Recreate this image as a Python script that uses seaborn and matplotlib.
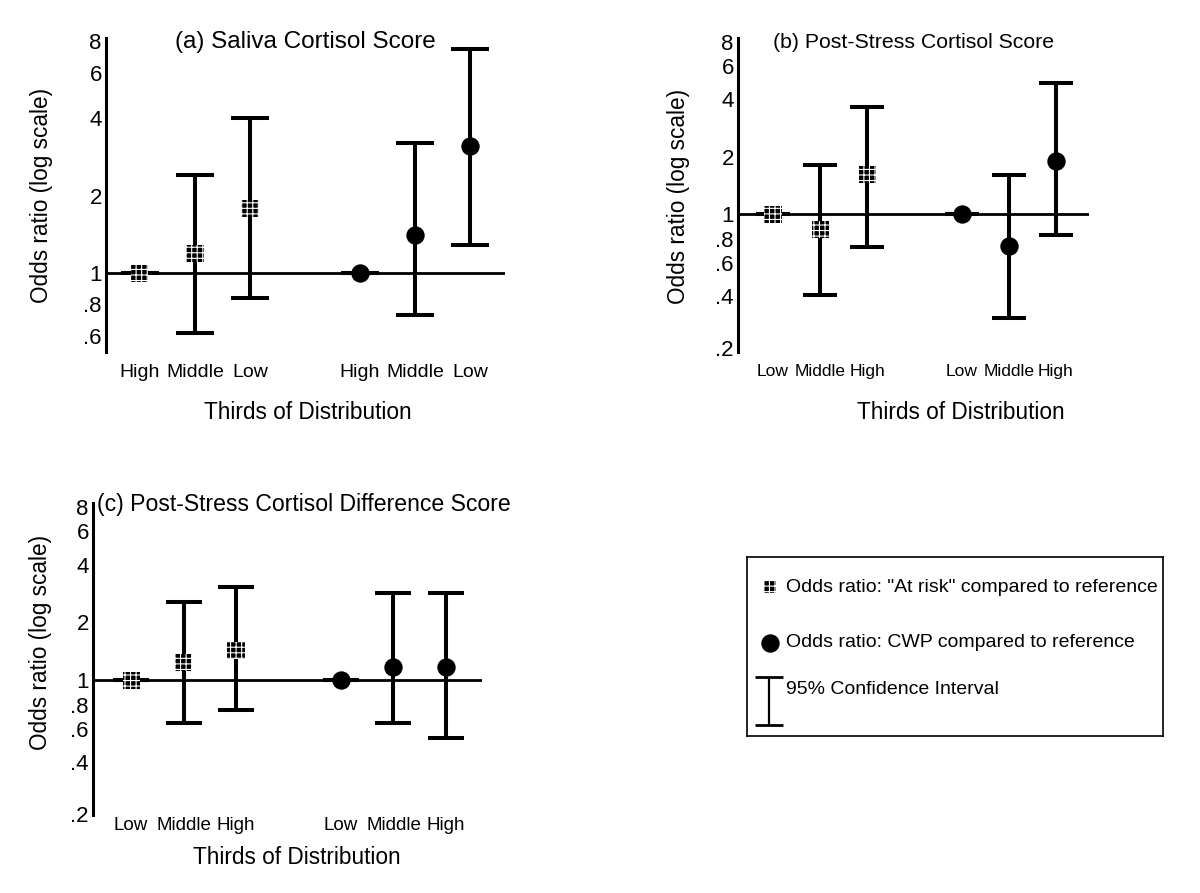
import seaborn as sns
import matplotlib.pyplot as plt
import pandas as pd
from matplotlib import font_manager
from matplotlib.transforms import ScaledTranslation

# category labels (thirds of the distribution)
thirds_a = ["High", "Middle", "Low"]
thirds_bc = ["Low", "Middle", "High"]

# odds ratios and 95% CI (log axis)
# (a) saliva cortisol score
a_risk_or = [1.0, 1.19, 1.79]
a_risk_lo = [1.0, 0.586, 0.80]
a_risk_hi = [1.0, 2.41, 4.02]
a_cwp_or = [1.0, 1.41, 3.13]
a_cwp_lo = [1.0, 0.69, 1.29]
a_cwp_hi = [1.0, 3.21, 7.45]

# (b) post-stress cortisol score
b_risk_or = [1.0, 0.835, 1.61]
b_risk_lo = [1.0, 0.38, 0.677]
b_risk_hi = [1.0, 1.81, 3.66]
b_cwp_or = [1.0, 0.683, 1.89]
b_cwp_lo = [1.0, 0.286, 0.78]
b_cwp_hi = [1.0, 1.61, 4.85]

# (c) post-stress cortisol difference score
c_risk_or = [1.0, 1.23, 1.42]
c_risk_lo = [1.0, 0.60, 0.70]
c_risk_hi = [1.0, 2.55, 3.06]
c_cwp_or = [1.0, 1.17, 1.17]
c_cwp_lo = [1.0, 0.60, 0.50]
c_cwp_hi = [1.0, 2.84, 2.84]

yticks_a = [0.6, 0.8, 1, 2, 4, 6, 8]
yticks_bc = [0.2, 0.4, 0.6, 0.8, 1, 2, 4, 6, 8]
ytick_labels_a = [".6", ".8", "1", "2", "4", "6", "8"]
ytick_labels_bc = [".2", ".4", ".6", ".8", "1", "2", "4", "6", "8"]

legend_labels = ['Odds ratio: "At risk" compared to reference',
                 'Odds ratio: CWP compared to reference',
                 '95% Confidence Interval']

sns.set_style("white")
plt.rcParams["font.family"] = ["Liberation Sans", "DejaVu Sans"]
plt.rcParams["text.color"] = "black"
plt.rcParams["axes.labelcolor"] = "black"
plt.rcParams["xtick.color"] = "black"
plt.rcParams["ytick.color"] = "black"
plt.rcParams["hatch.linewidth"] = 0.8


def has_font(name):
    try:
        font_manager.findfont(font_manager.FontProperties(family=[name]),
                              fallback_to_default=False)
        return True
    except ValueError:
        return False


tick_font = "Liberation Sans Narrow" if has_font("Liberation Sans Narrow") else "Liberation Sans"


def make_frame(labels, r_or, r_lo, r_hi, c_or, c_lo, c_hi):
    rows = []
    for i, lab in enumerate(labels):
        rows.append(dict(group="At risk", pos=i, third=lab, odds=r_or[i], lo=r_lo[i], hi=r_hi[i]))
    for i, lab in enumerate(labels):
        rows.append(dict(group="CWP", pos=i + 4, third=lab, odds=c_or[i], lo=c_lo[i], hi=c_hi[i]))
    return pd.DataFrame(rows)


def draw_panel(ax, df, title, xlim, ylim, yticks, ylabels, cap, xpad, xsize,
               tsize, title_xy, title_ha, ylab_xy, xlab_xy):
    ax.set_yscale("log")
    ax.axhline(1, color="black", lw=2.0, zorder=1)
    ax.errorbar(df["pos"], df["odds"],
                yerr=[df["odds"] - df["lo"], df["hi"] - df["odds"]],
                fmt="none", ecolor="black", elinewidth=2.9,
                capsize=cap, capthick=2.9, zorder=2)
    risk = df[df["group"] == "At risk"]
    cwp = df[df["group"] == "CWP"]
    sns.scatterplot(data=risk, x="pos", y="odds", marker="s", s=150,
                    color="black", edgecolor="white", linewidth=0,
                    hatch="+++", ax=ax, zorder=3, legend=False)
    sns.scatterplot(data=cwp, x="pos", y="odds", marker="o", s=175,
                    color="black", edgecolor="black", linewidth=0,
                    ax=ax, zorder=3, legend=False)

    ax.set_xlim(*xlim)
    ax.set_ylim(*ylim)
    ax.set_xticks(df["pos"], df["third"])
    ax.set_yticks(yticks, ylabels)
    ax.minorticks_off()
    ax.tick_params(axis="x", length=0, pad=xpad, labelsize=xsize)
    ax.tick_params(axis="y", length=0, pad=3, labelsize=16)
    # labels between .4 and .8 sit a little lower in the original
    shift = ScaledTranslation(0, -0.06, ax.figure.dpi_scale_trans)
    for val, t in zip(yticks, ax.get_yticklabels()):
        t.set_fontfamily(tick_font)
        if 0.3 < val < 1:
            t.set_transform(t.get_transform() + shift)

    sns.despine(ax=ax, bottom=True)
    ax.spines["left"].set_linewidth(2.2)
    ax.spines["left"].set_color("black")

    ax.set_ylabel("Odds ratio (log scale)", fontsize=16.3)
    ax.set_xlabel("Thirds of Distribution", fontsize=16.3)
    ax.yaxis.set_label_coords(*ylab_xy)
    ax.xaxis.set_label_coords(*xlab_xy)
    ax.text(title_xy[0], title_xy[1], title, transform=ax.transAxes,
            ha=title_ha, va="center", fontsize=tsize)


fig = plt.figure(figsize=(12, 8.93), dpi=100)

ax_a = fig.add_axes([106 / 1200, 1 - 352 / 893, 399 / 1200, 314 / 893])
ax_b = fig.add_axes([738 / 1200, 1 - 352 / 893, 351 / 1200, 314 / 893])
ax_c = fig.add_axes([93 / 1200, 1 - 815 / 893, 389 / 1200, 312 / 893])

df_a = make_frame(thirds_a, a_risk_or, a_risk_lo, a_risk_hi, a_cwp_or, a_cwp_lo, a_cwp_hi)
df_b = make_frame(thirds_bc, b_risk_or, b_risk_lo, b_risk_hi, b_cwp_or, b_cwp_lo, b_cwp_hi)
df_c = make_frame(thirds_bc, c_risk_or, c_risk_lo, c_risk_hi, c_cwp_or, c_cwp_lo, c_cwp_hi)

draw_panel(ax_a, df_a, "(a) Saliva Cortisol Score", (-0.618, 6.636), (0.494, 8.22),
           yticks_a, ytick_labels_a, 13.7, 9, 14, 17.5, (0.5, 0.987), "center",
           (-0.133, 0.5), (0.506, -0.156))
draw_panel(ax_b, df_b, "(b) Post-Stress Cortisol Score", (-0.742, 6.70), (0.19, 8.37),
           yticks_bc, ytick_labels_bc, 11.9, 9, 12.5, 15.3, (0.5, 0.987), "center",
           (-0.137, 0.497), (0.635, -0.156))
draw_panel(ax_c, df_c, "(c) Post-Stress Cortisol Difference Score", (-0.724, 6.686), (0.198, 8.38),
           yticks_bc, ytick_labels_bc, 13.3, 1.5, 13.5, 16.6, (0.01, 0.994), "left",
           (-0.105, 0.554), (0.524, -0.099))

# legend box drawn as its own framed axes
leg = fig.add_axes([747 / 1200, 1 - 736 / 893, 416 / 1200, 179 / 893])
leg.set_xlim(0, 1)
leg.set_ylim(0, 1)
leg.set_xticks([])
leg.set_yticks([])
for s in leg.spines.values():
    s.set_visible(True)
    s.set_linewidth(1.2)
    s.set_color("black")
leg.scatter([0.055], [0.832], marker="s", s=75, color="black",
            edgecolor="white", linewidth=0, hatch="+++")
leg.scatter([0.055], [0.52], marker="o", s=150, color="black")
leg.errorbar([0.053], [0.196], yerr=[[0.135], [0.135]], fmt="none",
             ecolor="black", elinewidth=1.6, capsize=10, capthick=2.0)
leg.text(0.094, 0.832, legend_labels[0], va="center", fontsize=14)
leg.text(0.094, 0.52, legend_labels[1], va="center", fontsize=14)
leg.text(0.094, 0.257, legend_labels[2], va="center", fontsize=14)

fig.savefig("out.png", dpi=100)
